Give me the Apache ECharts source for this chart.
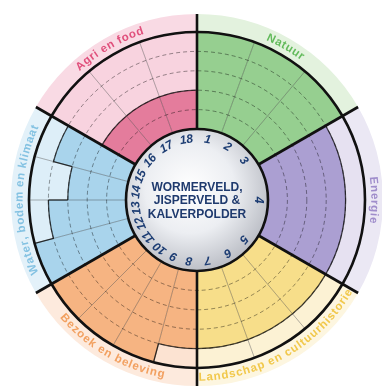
<!DOCTYPE html>
<html>
<head>
<meta charset="utf-8">
<script src="https://cdn.jsdelivr.net/npm/echarts@6/dist/echarts.min.js"></script>
<style>
  html, body { margin: 0; padding: 0; background: #fff; }
  #main { width: 382px; height: 388px; }
</style>
</head>
<body>
<div id="main"></div>
<script>
// sectors, clockwise from the top
var sectorNames = ['Natuur', 'Energie', 'Landschap en cultuurhistorie', 'Bezoek en beleving', 'Water, bodem en klimaat', 'Agri en food']
var indicatorCount = [3, 1, 3, 4, 4, 3]
var indicatorLabels = ['1', '2', '3', '4', '5', '6', '7', '8', '9', '10', '11', '12', '13', '14', '15', '16', '17', '18']
var scores = [5, 5, 5, 4, 4, 4, 4, 4, 5, 5, 5, 5, 4, 3, 4, 2, 2, 2]
var scoreMax = 5
var centerTitle = 'WORMERVELD,\nJISPERVELD &\nKALVERPOLDER'

var fillColors = ['#96cf90', '#ab9fd2', '#f7de8a', '#f6b482', '#a9d4ec', '#e47c9c']
var paleColors = ['#dcefd8', '#e6e1f1', '#fcf2d4', '#fce3d2', '#ddeef8', '#f8d3df']
var ringColors = ['#e3f2de', '#ebe8f4', '#fdf6e0', '#fdeadd', '#e3f1f9', '#f9dae4']
var textColors = ['#62ba5b', '#9f8dcb', '#f1c84b', '#f2a060', '#84c2e2', '#e0507c']
var outwardLabel = [true, true, false, false, true, true]

var CX = 197, CY = 200, R_IN = 71, R_TOP = 168, RING = 18
var FONT = '"Liberation Sans", Arial, sans-serif'

// [lo, hi, score, sector, index] angles in degrees, counter-clockwise
var indicatorData = []
var sectorData = []
var k = 0
indicatorCount.forEach(function (n, s) {
  var top = 90 - 60 * s
  var step = 60 / n
  for (var j = 0; j < n; j++) {
    var hi = top - j * step
    indicatorData.push([hi - step, hi, scores[k], s, k])
    k++
  }
  sectorData.push([top - 60, top, s])
})

var measure = document.createElement('canvas').getContext('2d')

function at(cs, r, a) {
  return [cs.cx + r * Math.cos(a), cs.cy - r * Math.sin(a)]
}

function radial(cs, r1, r2, a, color, w, z2) {
  var p1 = at(cs, r1, a), p2 = at(cs, r2, a)
  return { type: 'line', z2: z2, shape: { x1: p1[0], y1: p1[1], x2: p2[0], y2: p2[1] }, style: { stroke: color, lineWidth: w } }
}

function renderIndicator(params, api) {
  var lo = api.value(0), hi = api.value(1), v = api.value(2), s = api.value(3), idx = api.value(4)
  var cs = params.coordSys
  var cLo = api.coord([0, lo]), cHi = api.coord([0, hi])
  var aLo = cLo[3], aHi = cHi[3]
  var rIn = cLo[2]
  var rVal = api.coord([v, lo])[2]
  var rTop = api.coord([scoreMax, lo])[2]
  var kids = [
    { type: 'sector', z2: 0, shape: { cx: cs.cx, cy: cs.cy, r0: rIn, r: rTop, startAngle: -aHi, endAngle: -aLo, clockwise: true }, style: { fill: paleColors[s] } },
    { type: 'sector', z2: 1, shape: { cx: cs.cx, cy: cs.cy, r0: rIn, r: rVal, startAngle: -aHi, endAngle: -aLo, clockwise: true }, style: { fill: fillColors[s] } }
  ]
  if (v < scoreMax) {
    kids.push({ type: 'arc', z2: 8, shape: { cx: cs.cx, cy: cs.cy, r: rVal, startAngle: -aHi, endAngle: -aLo, clockwise: true }, style: { stroke: 'rgba(0,0,0,0.7)', lineWidth: 1.3, fill: null } })
  }
  var next = indicatorData[idx + 1]
  if (next && next[3] === s) {
    kids.push(radial(cs, rIn, rTop, aLo, 'rgba(40,40,40,0.45)', 0.8, 5))
    if (next[2] !== v) {
      var ra = api.coord([Math.min(v, next[2]), lo])[2]
      var rb = api.coord([Math.max(v, next[2]), lo])[2]
      kids.push(radial(cs, ra, rb, aLo, 'rgba(0,0,0,0.75)', 1.3, 8))
    }
  }
  return { type: 'group', children: kids }
}

function arcText(cs, text, mid, r, outward, color, size) {
  measure.font = 'bold ' + size + 'px ' + FONT
  var chars = text.split('')
  var widths = chars.map(function (ch) { return measure.measureText(ch).width + 0.8 })
  var total = widths.reduce(function (a, b) { return a + b }, 0)
  var pos = 0
  return chars.map(function (ch, i) {
    var d = (pos + widths[i] / 2 - total / 2) / r
    pos += widths[i]
    var a = outward ? mid - d : mid + d
    var p = at(cs, r, a)
    return {
      type: 'text', z2: 2, x: p[0], y: p[1],
      rotation: outward ? a - Math.PI / 2 : a + Math.PI / 2,
      style: { text: ch, fill: color, fontSize: size, fontWeight: 'bold', fontFamily: FONT, align: 'center', verticalAlign: 'middle' }
    }
  })
}

function renderSector(params, api) {
  var lo = api.value(0), hi = api.value(1), s = api.value(2)
  var cs = params.coordSys
  var cLo = api.coord([0, lo]), cHi = api.coord([0, hi])
  var aLo = cLo[3], aHi = cHi[3]
  var rIn = cLo[2]
  var rTop = api.coord([scoreMax, lo])[2]
  var rOut = rTop + RING
  var kids = [
    { type: 'sector', z2: 0, shape: { cx: cs.cx, cy: cs.cy, r0: rTop, r: rOut, startAngle: -aHi, endAngle: -aLo, clockwise: true }, style: { fill: ringColors[s] } },
    { type: 'arc', z2: 3, shape: { cx: cs.cx, cy: cs.cy, r: rTop, startAngle: -aHi, endAngle: -aLo, clockwise: true }, style: { stroke: '#111', lineWidth: 2.6, fill: null } },
    radial(cs, rIn, rOut, aHi, '#111', 2.6, 4)
  ]
  return { type: 'group', children: kids.concat(arcText(cs, sectorNames[s], (aLo + aHi) / 2, rTop + 9.5, outwardLabel[s], textColors[s], 11.5)) }
}

function renderNumber(params, api) {
  var lo = api.value(0), hi = api.value(1)
  var cs = params.coordSys
  var c = api.coord([0, (lo + hi) / 2])
  var a = c[3]
  var p = at(cs, c[2] - 10, a)
  return {
    type: 'text', x: p[0], y: p[1], rotation: a - Math.PI / 2,
    style: { text: indicatorLabels[api.value(4)], fill: '#1d3d73', fontSize: 12, fontWeight: 'bold', fontStyle: 'italic', fontFamily: FONT, align: 'center', verticalAlign: 'middle' }
  }
}

var chart = echarts.init(document.getElementById('main'))
chart.setOption({
  backgroundColor: '#fff',
  animation: false,
  polar: { center: [CX, CY], radius: [R_IN, R_TOP] },
  angleAxis: {
    type: 'value', min: -270, max: 90, startAngle: 90, clockwise: false,
    axisLine: { show: false }, axisTick: { show: false }, axisLabel: { show: false }, splitLine: { show: false }
  },
  radiusAxis: {
    type: 'value', min: 0, max: scoreMax, interval: 1, z: 3,
    axisLine: { show: false }, axisTick: { show: false }, axisLabel: { show: false },
    splitLine: { show: true, lineStyle: { type: [4, 3], color: 'rgba(0,0,0,0.4)', width: 1 } }
  },
  graphic: [
    {
      type: 'circle', z: 5, shape: { cx: CX, cy: CY, r: R_IN },
      style: {
        fill: new echarts.graphic.RadialGradient(0.45, 0.42, 0.62, [
          { offset: 0, color: '#ffffff' },
          { offset: 0.5, color: '#eceef2' },
          { offset: 1, color: '#b4b7bf' }
        ]),
        stroke: '#111', lineWidth: 2.6
      }
    },
    {
      type: 'text', z: 6, x: CX, y: CY + 1,
      style: { text: centerTitle, fill: '#1f3a6e', fontSize: 12, fontWeight: 'bold', fontFamily: FONT, lineHeight: 13.5, align: 'center', verticalAlign: 'middle' }
    }
  ],
  series: [
    { type: 'custom', name: 'scores', coordinateSystem: 'polar', z: 2, renderItem: renderIndicator, data: indicatorData, encode: { angle: 0, radius: 2 } },
    { type: 'custom', name: 'frame', coordinateSystem: 'polar', z: 4, renderItem: renderSector, data: sectorData, encode: { angle: 0 } },
    { type: 'custom', name: 'numbers', coordinateSystem: 'polar', z: 7, renderItem: renderNumber, data: indicatorData, encode: { angle: 0, radius: 2 } }
  ]
})
</script>
</body>
</html>
